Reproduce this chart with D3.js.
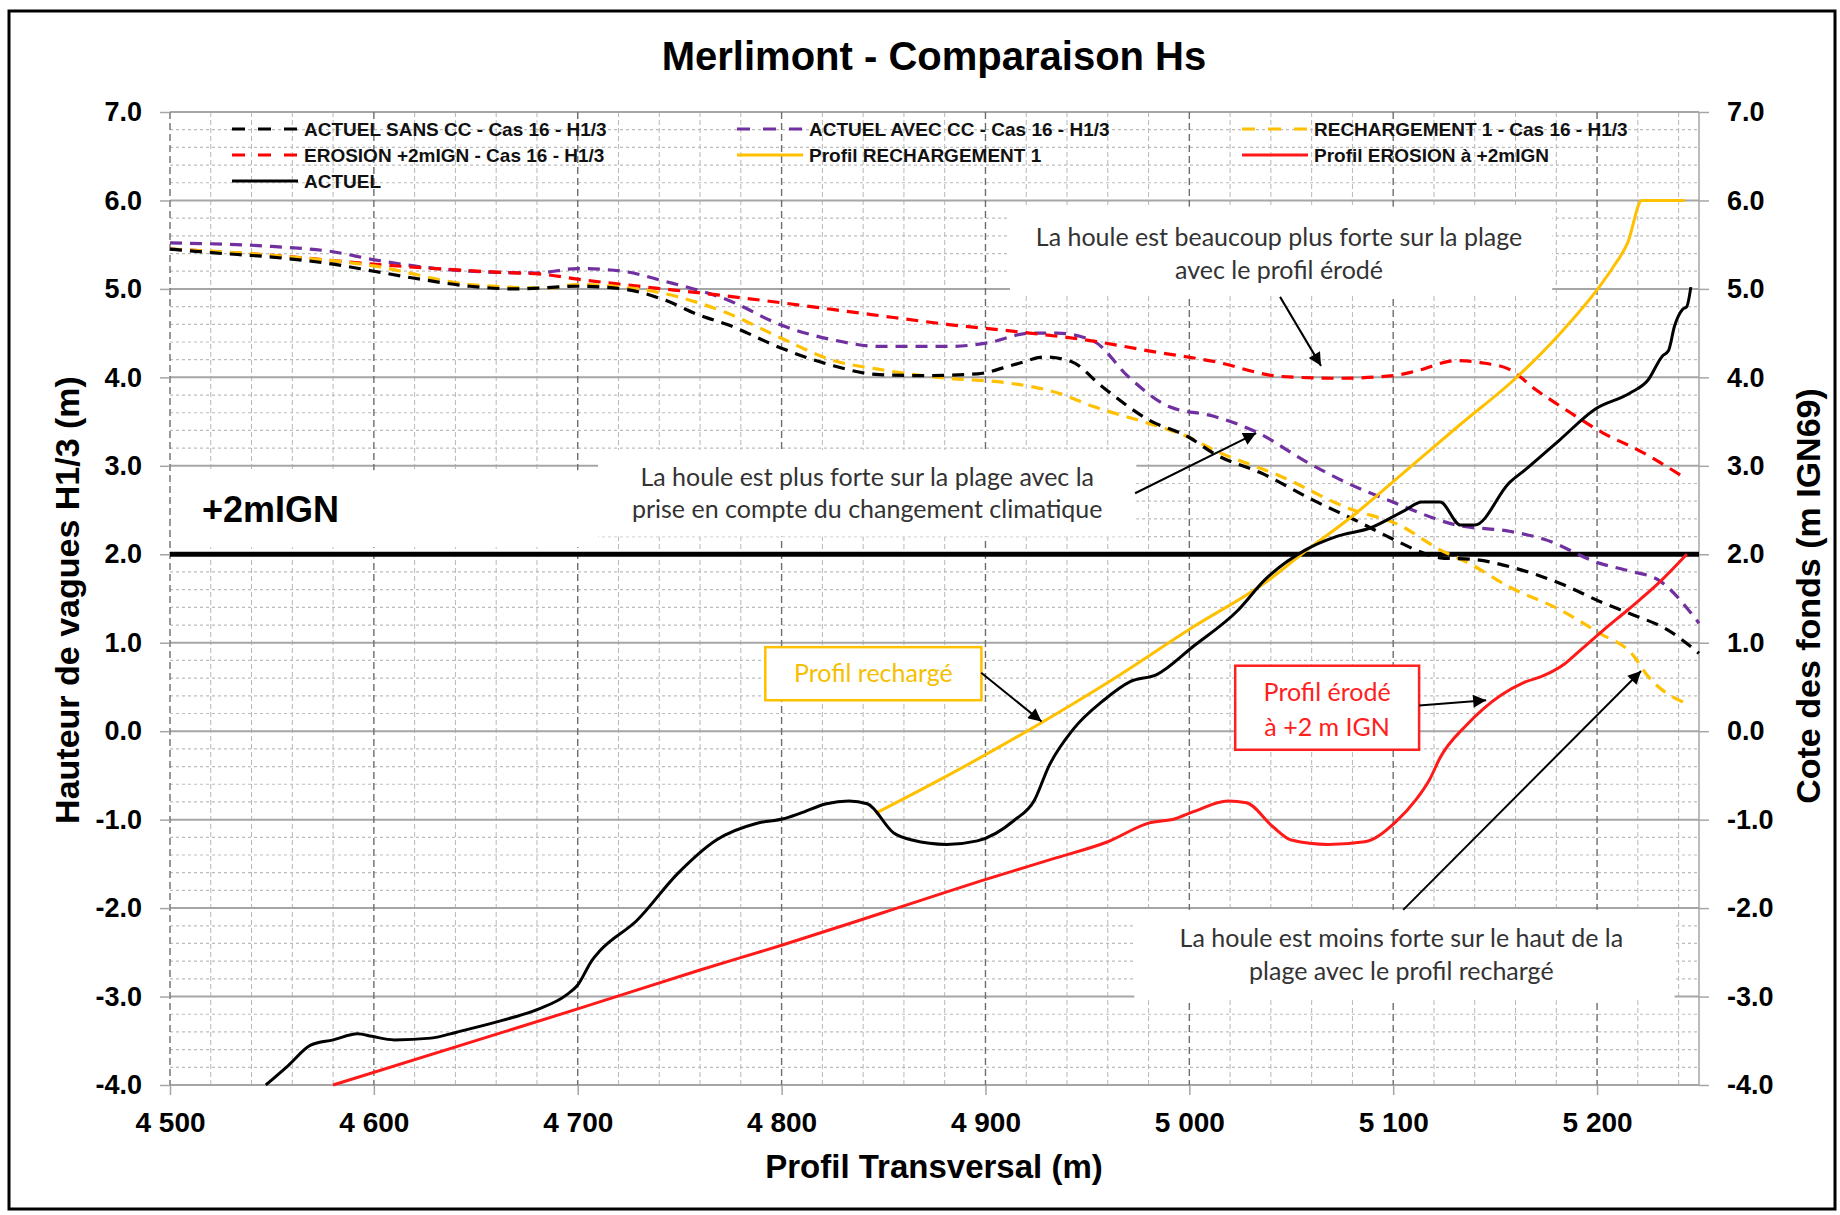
<!DOCTYPE html>
<html>
<head>
<meta charset="utf-8">
<script src="https://cdn.jsdelivr.net/npm/d3@7"></script>
<style>
	html, body { margin: 0; padding: 0; background: #fff; }
	svg { display: block; }
</style>
</head>
<body>
<div class="chart"></div>
<script>
(function () {

	"use strict";

	// axis ticks
	var xTicks = [4500, 4600, 4700, 4800, 4900, 5000, 5100, 5200];
	var yTicks = [-4, -3, -2, -1, 0, 1, 2, 3, 4, 5, 6, 7];

	// wave heights H1/3 (m) - Cas 16, [profil, Hs]
	var actuelSansCC = [[4500,5.45],[4520,5.41],[4550,5.36],[4580,5.28],[4600,5.20],[4620,5.12],[4647,5.03],[4670,5.00],[4700,5.03],[4722,5.00],[4742,4.88],[4760,4.70],[4773,4.60],[4801,4.32],[4824,4.14],[4848,4.03],[4870,4.02],[4896,4.04],[4915,4.15],[4929,4.23],[4942,4.18],[4957,3.90],[4980,3.52],[5000,3.32],[5012,3.14],[5037,2.90],[5060,2.62],[5081,2.39],[5100,2.17],[5111,2.05],[5123,1.96],[5140,1.94],[5157,1.86],[5182,1.67],[5203,1.45],[5216,1.33],[5235,1.14],[5250,0.88]];
	var actuelAvecCC = [[4500,5.52],[4550,5.48],[4580,5.42],[4600,5.33],[4647,5.20],[4680,5.18],[4700,5.23],[4722,5.20],[4742,5.09],[4773,4.88],[4801,4.58],[4824,4.43],[4848,4.35],[4883,4.35],[4901,4.39],[4922,4.50],[4935,4.50],[4953,4.41],[4970,4.01],[4990,3.67],[5012,3.56],[5034,3.37],[5057,3.05],[5078,2.80],[5101,2.58],[5131,2.33],[5157,2.26],[5174,2.17],[5201,1.90],[5216,1.81],[5230,1.71],[5250,1.22]];
	var rechargementCC = [[4500,5.45],[4550,5.38],[4600,5.26],[4647,5.05],[4685,5.01],[4700,5.05],[4722,5.02],[4742,4.95],[4773,4.73],[4801,4.43],[4824,4.20],[4848,4.09],[4881,3.99],[4910,3.94],[4936,3.82],[4953,3.67],[4980,3.48],[5000,3.32],[5012,3.18],[5045,2.88],[5078,2.52],[5103,2.33],[5123,2.05],[5137,1.90],[5157,1.63],[5182,1.37],[5201,1.11],[5218,0.85],[5224,0.65],[5245,0.30]];
	var erosionCC = [[4500,5.45],[4550,5.38],[4600,5.28],[4630,5.23],[4660,5.19],[4685,5.16],[4700,5.11],[4722,5.05],[4742,5.00],[4773,4.92],[4801,4.84],[4844,4.71],[4881,4.60],[4914,4.52],[4953,4.41],[4980,4.30],[5012,4.18],[5045,4.01],[5074,3.99],[5100,4.02],[5111,4.07],[5131,4.19],[5145,4.16],[5157,4.09],[5170,3.86],[5187,3.60],[5203,3.37],[5220,3.18],[5242,2.88]];

	// bottom profiles (m IGN69), [profil, cote]
	var profilRechargement = [[4846,-0.93],[4880,-0.52],[4927,0.09],[4960,0.55],[5002,1.18],[5039,1.71],[5055,2.00],[5081,2.45],[5101,2.84],[5132,3.45],[5161,4.01],[5182,4.50],[5201,5.02],[5208,5.25],[5215,5.52],[5222,6.00],[5243,6.00]];
	var profilErosion = [[4580,-4.0],[4700,-3.14],[4760,-2.70],[4800,-2.42],[4850,-2.05],[4901,-1.67],[4935,-1.43],[4960,-1.25],[4980,-1.04],[4993,-0.99],[5002,-0.91],[5019,-0.79],[5028,-0.81],[5041,-1.08],[5050,-1.23],[5068,-1.28],[5086,-1.25],[5101,-1.03],[5111,-0.78],[5118,-0.54],[5123,-0.30],[5136,0.07],[5153,0.41],[5164,0.55],[5174,0.63],[5184,0.76],[5191,0.90],[5203,1.14],[5215,1.37],[5230,1.67],[5244,2.00]];
	var actuel = [[4547,-4.0],[4558,-3.78],[4569,-3.55],[4580,-3.49],[4592,-3.42],[4599,-3.45],[4610,-3.49],[4628,-3.47],[4641,-3.40],[4663,-3.27],[4681,-3.14],[4694,-2.99],[4700,-2.87],[4707,-2.59],[4711,-2.48],[4729,-2.14],[4749,-1.61],[4768,-1.23],[4788,-1.04],[4801,-0.99],[4809,-0.93],[4822,-0.82],[4833,-0.79],[4842,-0.82],[4855,-1.15],[4864,-1.23],[4881,-1.28],[4896,-1.24],[4914,-1.01],[4924,-0.78],[4931,-0.40],[4943,0.02],[4958,0.35],[4971,0.56],[4984,0.64],[5002,0.96],[5024,1.37],[5037,1.71],[5057,2.05],[5072,2.20],[5089,2.30],[5106,2.50],[5114,2.59],[5123,2.59],[5133,2.33],[5140,2.33],[5157,2.81],[5165,2.96],[5182,3.30],[5199,3.64],[5216,3.82],[5225,3.97],[5232,4.24],[5235,4.30],[5238,4.58],[5242,4.77],[5244,4.80],[5246,5.02]];

	// reference level
	var niveauIGN = 2;

	// series, in legend order
	var series = [
		{ name: "ACTUEL SANS CC - Cas 16 - H1/3", values: actuelSansCC, color: "#000000", dashed: true },
		{ name: "ACTUEL AVEC CC - Cas 16 - H1/3", values: actuelAvecCC, color: "#7030a0", dashed: true },
		{ name: "RECHARGEMENT 1 - Cas 16 - H1/3", values: rechargementCC, color: "#ffc000", dashed: true },
		{ name: "EROSION +2mIGN - Cas 16 - H1/3", values: erosionCC, color: "#ff0000", dashed: true },
		{ name: "Profil RECHARGEMENT 1", values: profilRechargement, color: "#ffc000", dashed: false },
		{ name: "Profil EROSION à +2mIGN", values: profilErosion, color: "#ff1a1a", dashed: false },
		{ name: "ACTUEL", values: actuel, color: "#000000", dashed: false }
	];

	// notes, placed in data units
	var notes = [
		{ lines: ["La houle est beaucoup plus forte sur la plage", "avec le profil érodé"], box: [4912, 5178, 5.93, 4.93], cx: 5044, ys: [5.49, 5.11], color: "#333", border: null },
		{ lines: ["La houle est plus forte sur la plage avec la", "prise en compte du changement climatique"], box: [4710, 4974, 3.18, 2.2], cx: 4842, ys: [2.77, 2.41], color: "#333", border: null },
		{ lines: ["La houle est moins forte sur le haut de la", "plage avec le profil rechargé"], box: [4973, 5238, -2.02, -3.04], cx: 5104, ys: [-2.44, -2.81], color: "#333", border: null },
		{ lines: ["Profil rechargé"], box: [4792, 4898, 0.95, 0.35], cx: 4845, ys: [0.56], color: "#f5bf00", border: "#ffc000" },
		{ lines: ["Profil érodé", "à +2 m IGN"], box: [5022.5, 5112.7, 0.74, -0.21], cx: 5067.6, ys: [0.34, -0.05], color: "#ff2020", border: "#ff2020" }
	];
	var arrows = [
		[[5044.5, 4.91], [5064.6, 4.13]],
		[[4973.4, 2.69], [5032.8, 3.37]],
		[[4897.9, 0.66], [4927.5, 0.11]],
		[[5112.7, 0.29], [5145.6, 0.35]],
		[[5104.9, -2.02], [5221.6, 0.68]]
	];

	var width = 1840,
		height = 1215,
		margin = { "top": 112, "right": 141, "bottom": 130, "left": 170 };

	var font = "'Liberation Sans', Arial, sans-serif",
		noteFont = "Lato, 'Open Sans', sans-serif";

	var svg = d3.select(".chart").append("svg")
		.attr("width", width)
		.attr("height", height)
		.style("background", "#fff");

	var defs = svg.append("defs");
	defs.append("marker")
		.attr("id", "arrow")
		.attr("viewBox", "0 0 10 10")
		.attr("refX", 10)
		.attr("refY", 5)
		.attr("markerUnits", "userSpaceOnUse")
		.attr("markerWidth", 16)
		.attr("markerHeight", 13)
		.attr("orient", "auto")
		.append("path")
		.attr("d", "M0,0 L10,5 L0,10 z")
		.attr("fill", "#000");

	// frame
	svg.append("rect")
		.attr("x", 9).attr("y", 11)
		.attr("width", 1826).attr("height", 1198)
		.attr("fill", "none")
		.attr("stroke", "#000")
		.attr("stroke-width", 3);

	var x = d3.scaleLinear().domain([4500, 5250]).range([margin.left, width - margin.right]);
	var y = d3.scaleLinear().domain([-4, 7]).range([height - margin.bottom, margin.top]);

	var g = svg.append("g");

	// minor grid
	var minorX = d3.range(4500, 5251, 20).filter(function (d) { return d % 100 !== 0; });
	var minorY = d3.range(-40, 71, 2).filter(function (d) { return d % 10 !== 0; }).map(function (d) { return d / 10; });

	g.selectAll(".minor-x").data(minorX).enter().append("line")
		.attr("x1", x).attr("x2", x)
		.attr("y1", y(7)).attr("y2", y(-4))
		.attr("stroke", "#b8b8b8")
		.attr("stroke-width", 1)
		.attr("stroke-dasharray", "5,3");

	g.selectAll(".minor-y").data(minorY).enter().append("line")
		.attr("x1", x(4500)).attr("x2", x(5250))
		.attr("y1", y).attr("y2", y)
		.attr("stroke", "#bdbdbd")
		.attr("stroke-width", 1.2)
		.attr("stroke-dasharray", "3,3");

	// major grid
	g.selectAll(".major-y").data(yTicks).enter().append("line")
		.attr("x1", x(4500)).attr("x2", x(5250))
		.attr("y1", y).attr("y2", y)
		.attr("stroke", "#a6a6a6")
		.attr("stroke-width", 2);

	g.selectAll(".major-x").data(xTicks).enter().append("line")
		.attr("x1", x).attr("x2", x)
		.attr("y1", y(7)).attr("y2", y(-4))
		.attr("stroke", "#6e6e6e")
		.attr("stroke-width", 1.4)
		.attr("stroke-dasharray", "7,4");

	g.append("line")
		.attr("x1", x(5250)).attr("x2", x(5250))
		.attr("y1", y(7)).attr("y2", y(-4))
		.attr("stroke", "#a6a6a6")
		.attr("stroke-width", 1.5);

	// axes
	var fmtX = d3.formatLocale({ decimal: ",", thousands: " ", grouping: [3], currency: ["", ""] }).format(",");
	var fmtY = function (d) { return d.toFixed(1); };

	function styleAxis(sel, size) {
		sel.select(".domain").remove();
		sel.selectAll(".tick line").attr("stroke", "#a6a6a6").attr("stroke-width", 1.5);
		sel.selectAll("text")
			.attr("fill", "#000")
			.style("font-family", font)
			.style("font-weight", "bold")
			.style("font-size", size + "px");
	}

	svg.append("g")
		.attr("transform", "translate(0," + y(-4) + ")")
		.call(d3.axisBottom(x).tickValues(xTicks).tickSize(10).tickPadding(17).tickFormat(fmtX))
		.call(styleAxis, 28);

	svg.append("g")
		.attr("transform", "translate(" + x(4500) + ",0)")
		.call(d3.axisLeft(y).tickValues(yTicks).tickSize(10).tickPadding(18).tickFormat(fmtY))
		.call(styleAxis, 27);

	svg.append("g")
		.attr("transform", "translate(" + x(5250) + ",0)")
		.call(d3.axisRight(y).tickValues(yTicks).tickSize(10).tickPadding(18).tickFormat(fmtY))
		.call(styleAxis, 27);

	// white note boxes
	var noteG = svg.append("g");

	noteG.append("rect")
		.attr("x", x(4500) + 1)
		.attr("y", y(2.95))
		.attr("width", x(4710) - x(4500) - 1)
		.attr("height", y(2.08) - y(2.95))
		.attr("fill", "#fff");

	noteG.selectAll(".note-box").data(notes).enter().append("rect")
		.attr("x", function (d) { return x(d.box[0]); })
		.attr("y", function (d) { return y(d.box[2]); })
		.attr("width", function (d) { return x(d.box[1]) - x(d.box[0]); })
		.attr("height", function (d) { return y(d.box[3]) - y(d.box[2]); })
		.attr("fill", "#fff")
		.attr("stroke", function (d) { return d.border || "none"; })
		.attr("stroke-width", 2.5);

	// +2 m IGN level
	svg.append("line")
		.attr("x1", x(4500)).attr("x2", x(5250))
		.attr("y1", y(niveauIGN)).attr("y2", y(niveauIGN))
		.attr("stroke", "#000")
		.attr("stroke-width", 5);

	svg.append("text")
		.attr("x", x(4515.7))
		.attr("y", y(2.37))
		.attr("fill", "#000")
		.style("font-family", font)
		.style("font-weight", "bold")
		.style("font-size", "36px")
		.text("+2mIGN");

	// series
	var line = d3.line()
		.x(function (d) { return x(d[0]); })
		.y(function (d) { return y(d[1]); })
		.curve(d3.curveMonotoneX);

	var drawOrder = [1, 3, 2, 0, 4, 5, 6];
	svg.append("g").selectAll("path")
		.data(drawOrder.map(function (i) { return series[i]; }))
		.enter().append("path")
		.attr("d", function (d) { return line(d.values); })
		.attr("fill", "none")
		.attr("stroke", function (d) { return d.color; })
		.attr("stroke-width", function (d) { return d.dashed ? 3.2 : 3; })
		.attr("stroke-dasharray", function (d) { return d.dashed ? "12,8" : null; })
		.attr("stroke-linejoin", "round");

	// note texts
	notes.forEach(function (n) {
		n.lines.forEach(function (t, i) {
			svg.append("text")
				.attr("x", x(n.cx))
				.attr("y", y(n.ys[i]))
				.attr("text-anchor", "middle")
				.attr("fill", n.color)
				.style("font-family", noteFont)
				.style("font-size", "25px")
				.text(t);
		});
	});

	svg.append("g").selectAll("line")
		.data(arrows).enter().append("line")
		.attr("x1", function (d) { return x(d[0][0]); })
		.attr("y1", function (d) { return y(d[0][1]); })
		.attr("x2", function (d) { return x(d[1][0]); })
		.attr("y2", function (d) { return y(d[1][1]); })
		.attr("stroke", "#000")
		.attr("stroke-width", 2)
		.attr("marker-end", "url(#arrow)");

	// legend
	var legendCols = [232, 737, 1242],
		legendRows = [129, 155, 181],
		sampleLength = 66;

	var legend = svg.append("g").selectAll("g")
		.data(series).enter().append("g")
		.attr("transform", function (d, i) {
			return "translate(" + legendCols[i % 3] + "," + legendRows[Math.floor(i / 3)] + ")";
		});

	legend.append("line")
		.attr("x1", 0).attr("x2", sampleLength)
		.attr("y1", 0).attr("y2", 0)
		.attr("stroke", function (d) { return d.color; })
		.attr("stroke-width", 3.2)
		.attr("stroke-dasharray", function (d) { return d.dashed ? "13,13" : null; });

	legend.append("text")
		.attr("x", sampleLength + 6)
		.attr("y", 6.5)
		.attr("fill", "#111")
		.style("font-family", font)
		.style("font-weight", "bold")
		.style("font-size", "19px")
		.text(function (d) { return d.name; });

	// titles
	svg.append("text")
		.attr("x", 934).attr("y", 70)
		.attr("text-anchor", "middle")
		.style("font-family", font)
		.style("font-weight", "bold")
		.style("font-size", "40px")
		.text("Merlimont - Comparaison Hs");

	svg.append("text")
		.attr("x", 934).attr("y", 1178)
		.attr("text-anchor", "middle")
		.style("font-family", font)
		.style("font-weight", "bold")
		.style("font-size", "33px")
		.text("Profil Transversal (m)");

	svg.append("text")
		.attr("transform", "translate(79,600) rotate(-90)")
		.attr("text-anchor", "middle")
		.style("font-family", font)
		.style("font-weight", "bold")
		.style("font-size", "34px")
		.text("Hauteur de vagues H1/3 (m)");

	svg.append("text")
		.attr("transform", "translate(1820,596) rotate(-90)")
		.attr("text-anchor", "middle")
		.style("font-family", font)
		.style("font-weight", "bold")
		.style("font-size", "34px")
		.text("Cote des fonds (m IGN69)");

})();
</script>
</body>
</html>
